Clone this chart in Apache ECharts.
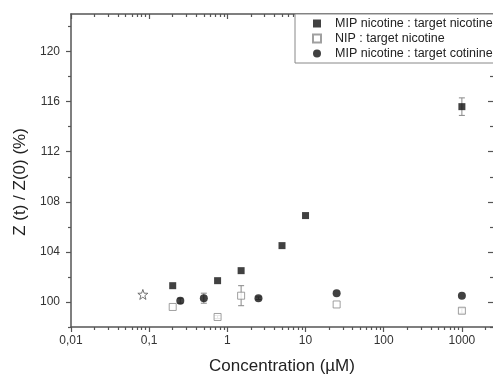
<!DOCTYPE html>
<html>
<head>
<meta charset="utf-8">
<script src="https://cdn.jsdelivr.net/npm/echarts@6/dist/echarts.min.js"></script>
<style>html,body{margin:0;padding:0;background:#fff}#c{width:493px;height:380px}</style>
</head>
<body>
<div id="c"></div>
<script>
// ---- data ----
const seriesNames = ['MIP nicotine : target nicotine', 'NIP : target nicotine', 'MIP nicotine : target cotinine'];
const concMipNic = [0.2, 0.75, 1.5, 5, 10, 1000];
const valMipNic  = [101.3, 101.7, 102.5, 104.5, 106.9, 115.6];
const errMipNic  = [0, 0, 0, 0, 0, 0.7];
const concNipNic = [0.2, 0.75, 1.5, 25, 1000];
const valNipNic  = [99.6, 98.8, 100.5, 99.8, 99.3];
const errNipNic  = [0, 0.12, 0.8, 0, 0.2];
const concMipCot = [0.25, 0.5, 2.5, 25, 1000];
const valMipCot  = [100.1, 100.3, 100.3, 100.7, 100.5];
const errMipCot  = [0.2, 0.4, 0.1, 0, 0];
const concStar = [0.083];
const valStar  = [100.6];
const xTickValues = [0.01, 0.1, 1, 10, 100, 1000];
const xTickLabels = ['0,01', '0,1', '1', '10', '100', '1000'];
const xMinorValues = [];
[0.01, 0.1, 1, 10, 100, 1000].forEach(d => { for (let m = 2; m <= 9; m++) xMinorValues.push(d * m); });
const yTickValues = [100, 104, 108, 112, 116, 120];
const yMinorValues = [98, 102, 106, 110, 114, 118, 122];
const xMin = 0.01, xMax = 2500, yMin = 98, yMax = 123;

// ---- chart ----
const FONT = "'Liberation Sans', Arial, sans-serif";
const AX = '#555';
const lg = Math.log10;
const chart = echarts.init(document.getElementById('c'), null, {renderer: 'canvas'});

function pairs(xs, ys) { return xs.map((x, i) => [x, ys[i]]); }
function triples(xs, ys, es) { return xs.map((x, i) => [x, ys[i], es[i]]); }

function tickAxis(pos, values, len, inside, labels, lineShow) {
  return {
    type: 'value', position: pos, gridIndex: 0,
    min: lg(xMin), max: lg(xMax),
    axisLine: {show: !!lineShow, onZero: false, lineStyle: {color: AX, width: 1.5}},
    splitLine: {show: false},
    axisTick: {show: true, inside: inside, length: len, customValues: values.map(lg), lineStyle: {color: AX, width: 1.2}},
    axisLabel: labels ? {
      show: true, customValues: values.map(lg), margin: 8, color: '#333', fontSize: 12, fontFamily: FONT,
      formatter: v => { const i = values.findIndex(t => Math.abs(lg(t) - v) < 1e-6); return i >= 0 ? labels[i] : ''; }
    } : {show: false}
  };
}
function yTickAxis(pos, values, len, inside, labels, lineShow) {
  return {
    type: 'value', position: pos, min: yMin, max: yMax,
    axisLine: {show: !!lineShow, onZero: false, lineStyle: {color: AX, width: 1.5}},
    splitLine: {show: false},
    axisTick: {show: true, inside: inside, length: len, customValues: values, lineStyle: {color: AX, width: 1.2}},
    axisLabel: labels ? {show: true, customValues: values, margin: 11, color: '#333', fontSize: 12, fontFamily: FONT} : {show: false}
  };
}

function errRender(params, api) {
  const e = api.value(2);
  if (!e) return null;
  const x = api.value(0), y = api.value(1);
  const t = api.coord([x, y + e]);
  const b = api.coord([x, y - e]);
  const hw = 3;
  const st = {stroke: '#888', lineWidth: 1, fill: null};
  return {
    type: 'group',
    children: [
      {type: 'line', shape: {x1: t[0], y1: t[1], x2: b[0], y2: b[1]}, style: st},
      {type: 'line', shape: {x1: t[0] - hw, y1: t[1], x2: t[0] + hw, y2: t[1]}, style: st},
      {type: 'line', shape: {x1: b[0] - hw, y1: b[1], x2: b[0] + hw, y2: b[1]}, style: st}
    ]
  };
}

const starPath = 'path://M0,-10 L2.35,-3.24 L9.51,-3.09 L3.80,1.24 L5.88,8.09 L0,4 L-5.88,8.09 L-3.80,1.24 L-9.51,-3.09 L-2.35,-3.24 Z';

chart.setOption({
  animation: false,
  backgroundColor: '#fff',
  textStyle: {fontFamily: FONT},
  grid: {left: 71, top: 14, right: 0, bottom: 50, containLabel: false},
  xAxis: [
    {
      type: 'log', logBase: 10, min: xMin, max: xMax, position: 'bottom',
      axisLine: {show: true, onZero: false, lineStyle: {color: AX, width: 1.5}},
      axisTick: {show: false}, axisLabel: {show: false}, splitLine: {show: false}, minorTick: {show: false},
      name: 'Concentration (\u00b5M)', nameLocation: 'middle', nameGap: 31,
      nameTextStyle: {fontSize: 17, color: '#222', fontFamily: FONT}
    },
    tickAxis('bottom', xTickValues, 5, false, xTickLabels, false),
    tickAxis('bottom', xMinorValues, 3, false, null, false),
    tickAxis('top', xTickValues, 5, true, null, true),
    tickAxis('top', xMinorValues, 3, true, null, false)
  ],
  yAxis: [
    Object.assign(yTickAxis('left', yTickValues, 5, false, true, true), {
      name: 'Z (t) / Z(0) (%)', nameLocation: 'middle', nameGap: 40,
      nameTextStyle: {fontSize: 17, color: '#222', fontFamily: FONT, padding: [0, 23, 0, 0]}
    }),
    yTickAxis('left', yMinorValues, 3, false, false, false),
    yTickAxis('right', yTickValues, 5, true, false, false),
    yTickAxis('right', yMinorValues, 3, true, false, false)
  ],
  legend: {
    data: [
      {name: seriesNames[0], icon: 'rect'},
      {name: seriesNames[1], icon: 'rect'},
      {name: seriesNames[2], icon: 'circle'}
    ],
    orient: 'vertical', left: 295, top: 14,
    padding: [2, 20, 2, 17],
    itemWidth: 8, itemHeight: 8, itemGap: 0,
    backgroundColor: '#fff', borderColor: '#888', borderWidth: 1,
    textStyle: {fontSize: 12.5, color: '#222', fontFamily: FONT, lineHeight: 15, padding: [0, 0, 0, 9]}
  },
  series: [
    {type: 'custom', xAxisIndex: 0, yAxisIndex: 0, renderItem: errRender, data: triples(concMipNic, valMipNic, errMipNic), z: 1, silent: true, encode: {x: 0, y: 1}},
    {type: 'custom', xAxisIndex: 0, yAxisIndex: 0, renderItem: errRender, data: triples(concNipNic, valNipNic, errNipNic), z: 1, silent: true, encode: {x: 0, y: 1}},
    {type: 'custom', xAxisIndex: 0, yAxisIndex: 0, renderItem: errRender, data: triples(concMipCot, valMipCot, errMipCot), z: 1, silent: true, encode: {x: 0, y: 1}},
    {name: seriesNames[0], type: 'scatter', xAxisIndex: 0, yAxisIndex: 0, symbol: 'rect', symbolSize: 7,
     itemStyle: {color: '#111'}, data: pairs(concMipNic, valMipNic), z: 3},
    {name: seriesNames[1], type: 'scatter', xAxisIndex: 0, yAxisIndex: 0, symbol: 'rect', symbolSize: 7,
     itemStyle: {color: '#fff', borderColor: '#888', borderWidth: 1}, data: pairs(concNipNic, valNipNic), z: 3},
    {name: seriesNames[2], type: 'scatter', xAxisIndex: 0, yAxisIndex: 0, symbol: 'circle', symbolSize: 8,
     itemStyle: {color: '#111'}, data: pairs(concMipCot, valMipCot), z: 3},
    {name: 'star', type: 'scatter', xAxisIndex: 0, yAxisIndex: 0, symbol: starPath, symbolSize: 10,
     itemStyle: {color: '#fff', borderColor: '#555', borderWidth: 1}, data: pairs(concStar, valStar), z: 3}
  ]
});
</script>
</body>
</html>
